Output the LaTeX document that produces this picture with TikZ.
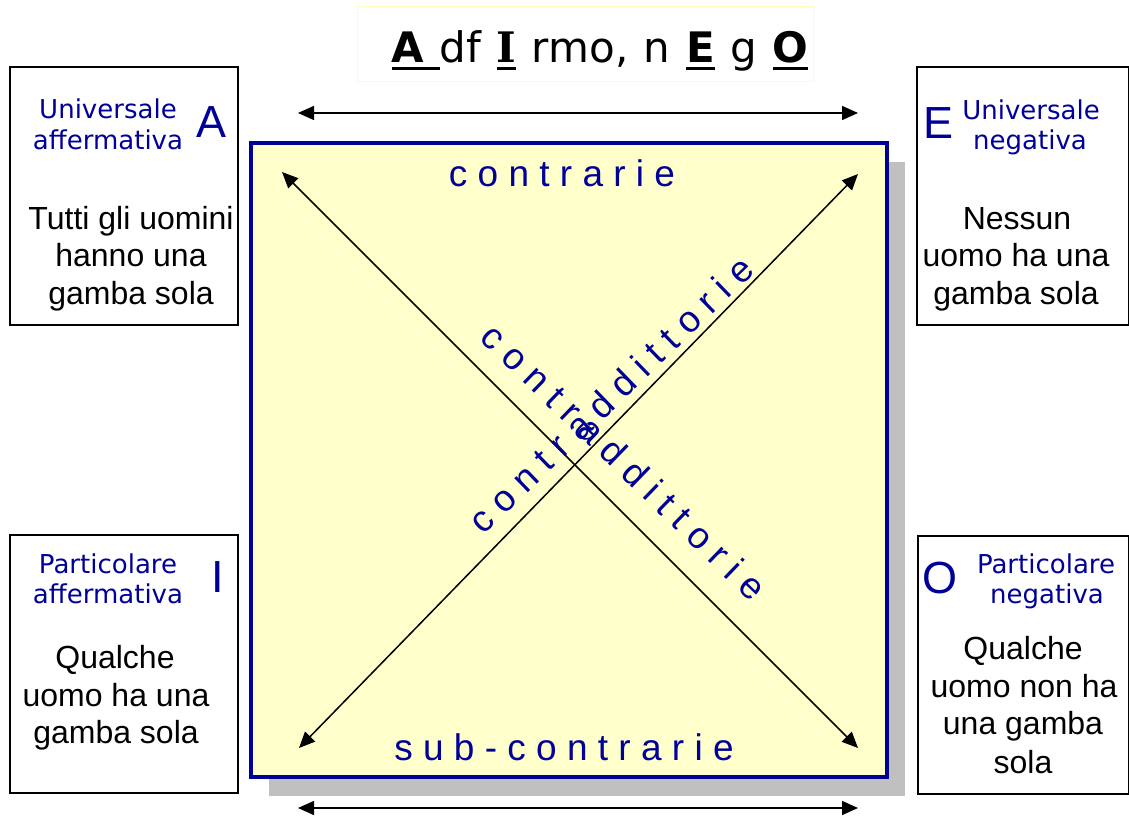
\documentclass[tikz,border=0pt]{standalone}
\usepackage{fontspec}
\setmainfont{Liberation Sans}
\newfontfamily\verd{DejaVu Sans}
\newfontfamily\verdserif{DejaVu Serif}
\usetikzlibrary{arrows.meta}
\definecolor{navy}{RGB}{0,0,153}
\definecolor{paleyellow}{RGB}{255,255,204}
\definecolor{shadowgray}{RGB}{192,192,192}
\definecolor{titleborder}{RGB}{255,255,190}
\newcommand\titleul[1]{\setbox0\hbox{#1}\rlap{\rule[-7pt]{\wd0}{3pt}}\box0\relax}
\newcommand\titlegap{\hspace{15.6pt}}
\tikzset{
  box/.style={draw=black, line width=1.5pt, fill=white, inner sep=0},
  lbl/.style={font=\verd\fontsize{26}{31}\selectfont, text=navy, inner sep=0, anchor=base},
  big/.style={font=\fontsize{45}{50}\selectfont, text=navy, inner sep=0, anchor=base},
  txt/.style={font=\fontsize{32}{37}\selectfont, text=black, inner sep=0, anchor=base},
  spaced/.style={font=\fontsize{37}{40}\selectfont, text=navy, inner sep=0, anchor=base},
  arr/.style={line width=1.5pt, {Triangle[length=16pt,width=14pt]}-{Triangle[length=16pt,width=14pt]}}
}
\begin{document}
\begin{tikzpicture}[x=1pt,y=-1pt]
\useasboundingbox (0,0) rectangle (1129,818);
% title
\node[draw=titleborder, line width=1pt, fill=white, minimum width=456pt, minimum height=75pt, inner sep=0] (titlebox) at (585,44.5) {};
\node[font=\verd\fontsize{42}{45}\selectfont, inner sep=0, anchor=base] (title) at (600,63)
  {\titleul{\textbf{A}\titlegap}df\titlegap\titleul{\verdserif\bfseries I}\titlegap rmo,\titlegap n\titlegap\titleul{\textbf{E}}\titlegap g\titlegap\titleul{\textbf{O}}};
% main square
\node[fill=shadowgray, minimum width=636pt, minimum height=634pt, inner sep=0] (shadow) at (587,479) {};
\node[draw=navy, fill=paleyellow, line width=4pt, minimum width=636pt, minimum height=634pt, inner sep=0] (square) at (569,460) {};
% arrows
\coordinate (htl) at (298,113);
\coordinate (htr) at (858,113);
\coordinate (hbl) at (298,808);
\coordinate (hbr) at (858,808);
\coordinate (tl) at (282,172);
\coordinate (br) at (858,748);
\coordinate (tr) at (858,174);
\coordinate (bl) at (299,748);
\draw[arr] (htl) -- (htr);
\draw[arr] (hbl) -- (hbr);
\draw[arr] (tl) -- (br);
\draw[arr] (tr) -- (bl);
% relation labels
\node[spaced] (contrarie) at (562,187) {c o n t r a r i e};
\node[spaced] (subcontrarie) at (564,760) {s u b - c o n t r a r i e};
\node[spaced, rotate=44] (contrad1) at (620,404) {c o n t r a d d i t t o r i e};
\node[spaced, rotate=-44] (contrad2) at (615,471) {c o n t r a d d i t t o r i e};
% box A
\node[box, minimum width=228pt, minimum height=258pt] (boxA) at (124,196) {};
\node[lbl] (A1) at (108,119) {Universale};
\node[lbl] (A2) at (108,150) {affermativa};
\node[big] (Aletter) at (212,138) {A};
\node[txt] (A3) at (131,230) {Tutti gli uomini};
\node[txt] (A4) at (131,267) {hanno una};
\node[txt] (A5) at (131,304) {gamba sola};
% box E
\node[box, minimum width=212pt, minimum height=258pt] (boxE) at (1023,196) {};
\node[lbl] (E1) at (1031,120) {Universale};
\node[lbl] (E2) at (1030,150) {negativa};
\node[big] (Eletter) at (938,139) {E};
\node[txt] (E3) at (1017,230) {Nessun};
\node[txt] (E4) at (1016,267) {uomo ha una};
\node[txt] (E5) at (1016,304) {gamba sola};
% box I
\node[box, minimum width=228pt, minimum height=258pt] (boxI) at (124,664) {};
\node[lbl] (I1) at (108,573) {Particolare};
\node[lbl] (I2) at (108,603) {affermativa};
\node[big] (Iletter) at (218,592) {I};
\node[txt] (I3) at (115,668) {Qualche};
\node[txt] (I4) at (116,706) {uomo ha una};
\node[txt] (I5) at (116,743) {gamba sola};
% box O
\node[box, minimum width=211pt, minimum height=258pt] (boxO) at (1023.5,665) {};
\node[lbl] (O1) at (1046,573) {Particolare};
\node[lbl] (O2) at (1047,603) {negativa};
\node[big] (Oletter) at (940,593) {O};
\node[txt] (O3) at (1023,659) {Qualche};
\node[txt] (O4) at (1024,697) {uomo non ha};
\node[txt] (O5) at (1023,734) {una gamba};
\node[txt] (O6) at (1023,773) {sola};
\end{tikzpicture}
\end{document}
